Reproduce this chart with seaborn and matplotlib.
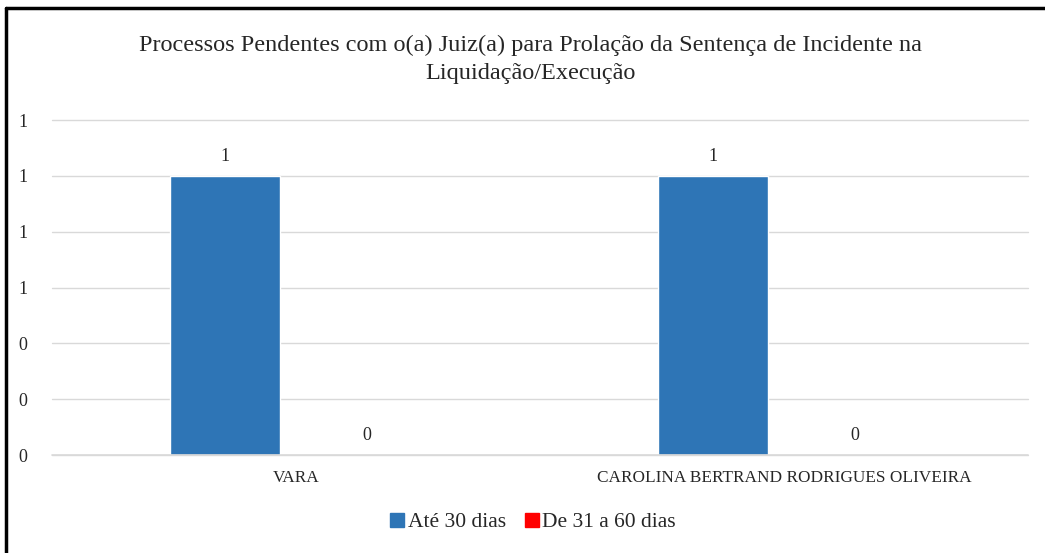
import matplotlib
matplotlib.use("Agg")
import pandas
import seaborn as sea
from matplotlib import pyplot
from matplotlib.lines import Line2D
from matplotlib.ticker import FormatStrFormatter

categories = ["VARA", "CAROLINA BERTRAND RODRIGUES OLIVEIRA"]
series = ["Até 30 dias", "De 31 a 60 dias"]
ate_30 = [1, 1]
de_31_60 = [0, 0]
colors = ["#2E75B6", "#FF0000"]
title = ("Processos Pendentes com o(a) Juiz(a) para Prolação da Sentença de Incidente na\n"
         "Liquidação/Execução")

df = pandas.DataFrame({
    "juiz": categories * 2,
    "faixa": [series[0]] * 2 + [series[1]] * 2,
    "qtd": ate_30 + de_31_60,
})

sea.set_style("white")
pyplot.rcParams["font.family"] = ["Liberation Serif", "DejaVu Serif"]

fig = pyplot.figure(figsize=(10.45, 5.53), dpi=100)
ax = fig.add_axes([0.0498, 0.1772, 0.9339, 0.6058])

sea.barplot(data=df, x="juiz", y="qtd", hue="faixa", palette=colors,
            width=0.58, gap=0.22, ax=ax, legend=False, saturation=1)

for cont in ax.containers:
    ax.bar_label(cont, fmt="%.0f", padding=8, fontsize=13, color="#262626")

ax.set_ylim(0, 1.2)
ax.set_xlim(-0.5, 1.5)
ax.set_yticks([0, 0.2, 0.4, 0.6, 0.8, 1.0, 1.2])
ax.yaxis.set_major_formatter(FormatStrFormatter("%.0f"))
ax.grid(axis="y", color="#d9d9d9", linewidth=1)
ax.set_axisbelow(True)
for gl in ax.get_ygridlines():
    gl.set_clip_on(False)
for s in ax.spines.values():
    s.set_visible(False)
ax.axhline(0, color="#d9d9d9", linewidth=1.2, zorder=5, clip_on=False)
ax.tick_params(axis="y", length=0, pad=18, labelsize=13, labelcolor="#262626")
ax.tick_params(axis="x", length=0, pad=11, labelsize=12.4, labelcolor="#262626")
ax.set_xlabel("")
ax.set_ylabel("")

fig.text(0.508, 0.893, title, ha="center", va="center", fontsize=17.5,
         color="#262626", linespacing=1.42)

handles = [Line2D([], [], marker="s", linestyle="", markersize=10,
                  markerfacecolor=c, markeredgecolor=c) for c in colors]
fig.legend(handles, series, loc="center", bbox_to_anchor=(0.503, 0.056),
           ncol=2, frameon=False, fontsize=15.5, handletextpad=-0.5,
           columnspacing=0.2, labelcolor="#262626")

# moldura (bordas superior e esquerda)
fig.add_artist(Line2D([0.0057, 0.0057], [0, 0.986], color="black", linewidth=2.5,
                      transform=fig.transFigure))
fig.add_artist(Line2D([0.0057, 1], [0.986, 0.986], color="black", linewidth=2.5,
                      transform=fig.transFigure))

fig.savefig("out.png", dpi=100, facecolor="white")
